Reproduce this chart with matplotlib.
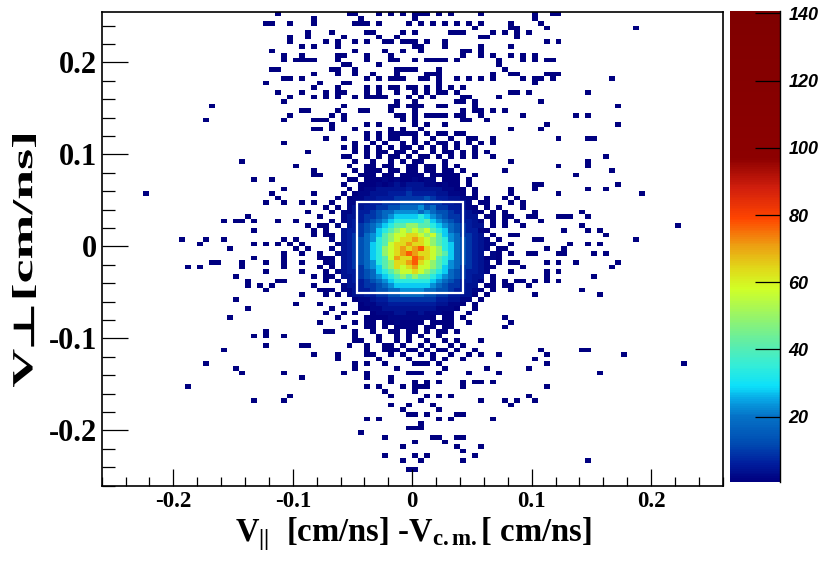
import numpy as np
import matplotlib
matplotlib.use("Agg")
import matplotlib.pyplot as plt
from matplotlib.colors import LinearSegmentedColormap, Normalize
from matplotlib.textpath import TextPath
from matplotlib.path import Path
from matplotlib.patches import PathPatch, Rectangle
from matplotlib.font_manager import FontProperties
from matplotlib.transforms import Affine2D
from matplotlib.ticker import MultipleLocator, FuncFormatter

plt.rcParams["axes.unicode_minus"] = False
plt.rcParams["mathtext.fontset"] = "custom"
plt.rcParams["mathtext.rm"] = "Liberation Serif:bold"
plt.rcParams["mathtext.bf"] = "Liberation Serif:bold"
plt.rcParams["mathtext.it"] = "Liberation Serif:bold:italic"
plt.rcParams["mathtext.fallback"] = "stix"

# binning of the 2D histogram (cm/ns), 0.005 wide bins
x_lo, x_hi, nx = -0.26, 0.26, 104
y_lo, y_hi, ny = -0.26, 0.255, 103

# colour scale range
z_min, z_max = 0.66, 140.8
z_ticks = [20, 40, 60, 80, 100, 120, 140]

# count level of each character in the dense core block
level_counts = {".": 0, "1": 1, "2": 2, "3": 4, "4": 6, "5": 9, "6": 13, "7": 18,
                "8": 23, "9": 28, "a": 34, "b": 41, "c": 49, "d": 57, "e": 64,
                "f": 71, "g": 77}

# dense core: bin rows 32..70 (counted from the top), bin columns 38..66
core_row0 = 32
core_col0 = 38
core_rows = [
    "....1.. 1..1.1. 11...1. ........",
    "...1..1 1.11..1 1.11.1. 1.......",
    "....1.1 11.11.1 1.11.11 .1......",
    "..1..11 1.11.11 11.1111 1..1....",
    "...11.1 1121211 2122.11 1.1.....",
    "..1..11 1212323 3322121 1.1.....",
    "...1.12 2333334 3333322 11.1....",
    "..1.122 3334445 4444332 21.1....",
    ".1.1223 3444555 5565443 3221.1..",
    "1..2233 4455566 6655544 332.11..",
    ".1.2334 4556677 7867554 4321.1.1",
    "1.22344 5677888 8787665 44321.1.",
    "..23345 5678999 9a98765 5433.11.",
    "1.23445 6789aaa aab9876 54432.1.",
    ".2.3456 789abbc cbba987 65433.1.",
    "..34456 79abcdc dcdba97 654421..",
    "1.34557 89bcdde edcdb98 75543.1.",
    "2.34567 8abcdee fedcba8 765432.1",
    ".234567 9abdeef eedcba9 7654322.",
    "2.34567 9acdefe fgedca9 765432.1",
    ".234567 9acdefg feedcb9 76543.21",
    "1.34567 9abdfee gfedba9 76543121",
    "2.34567 8abceef gedcba8 765432.1",
    "1.34557 89bcede fddcb98 7554321.",
    ".234456 79abcdd edcba97 654432..",
    "1.33456 789abcb cbba987 65433.1.",
    ".2.3445 6789aaa aaa9876 54432.1.",
    "..23345 5678999 9998765 5433.11.",
    "1.22344 5667788 8877665 44321.1.",
    ".1.2334 4556677 7766554 4331.1..",
    "....122 3445555 5555443 322.1...",
    "..1..12 2334444 4444332 21.1....",
    "1....11 2233333 3333222 1..1....",
    "..1.1.. 1222332 2322211 ..1.....",
    ".1....1 1112222 2221.11 .1......",
    "....1.1 1.11211 11.1111 ..1.....",
    "..1...1 1.1.111 1.11.11 ........",
    "1...1.. 1..11.1 1.1.11. 1.......",
    "....1.. .1..1.1 .1..1.. ........",
]

# single-count bins outside the core: bin row -> bin columns
sparse_hits = {
    0: [29, 41, 42, 46, 48, 50, 52, 53, 54, 56, 58, 63, 72, 75, 76],
    1: [35, 43, 52, 72],
    2: [27, 28, 31, 35, 42, 43, 44, 46, 51, 53, 55, 57, 59, 61, 63, 68, 73],
    3: [62, 68, 69, 74, 89],
    4: [34, 38, 44, 45, 50, 52, 58, 59, 60, 65, 67, 69, 71],
    5: [31, 34, 40, 46, 49, 63, 64, 69],
    6: [31, 37, 39, 42, 44, 47, 48, 50, 51, 52, 54, 57, 74, 76],
    7: [33, 35, 39, 52, 53, 57, 63, 68],
    8: [28, 42, 47, 50, 53, 60, 61, 63],
    9: [30, 33, 39, 40, 44, 48, 60, 63, 65, 68, 70, 72],
    10: [30, 32, 33, 34, 35, 39, 44, 48, 49, 52, 54, 55, 56, 57, 59, 66, 70, 72, 74, 75],
    11: [40, 41, 46, 66],
    12: [28, 29, 38, 39, 42, 49, 50, 51, 52, 56, 67],
    13: [35, 39, 42, 45, 49, 54, 55, 56, 65, 68, 69, 74, 75, 76],
    14: [30, 31, 33, 44, 46, 48, 49, 50, 53, 54, 56, 59, 61, 63, 65, 70, 72, 73, 75, 85],
    15: [27, 36, 40, 41, 56, 72],
    16: [35, 39, 44, 46, 48, 49, 51, 52, 54, 56, 58, 60],
    17: [29, 33, 37, 39, 40, 44, 46, 49, 52, 54, 56, 57, 59, 68, 69, 71, 81],
    18: [31, 35, 37, 39, 42, 44, 45, 46, 47, 51, 53, 55, 60, 61, 66],
    19: [30, 49, 52, 59, 60, 62, 73],
    20: [18, 40, 48, 49, 51, 52, 53, 56, 57, 62, 86],
    21: [33, 34, 39, 43, 44, 48, 52, 60, 62, 63, 65, 67],
    22: [31, 38, 40, 49, 50, 52, 54, 55, 56, 57, 59, 60, 63, 70, 79, 81],
    23: [17, 30, 35, 36, 37, 40, 50, 52, 60, 61, 64],
    24: [38, 44, 46, 52, 54, 57, 74, 86],
    25: [35, 36, 38, 42, 48, 50, 53, 68, 73],
    26: [44, 46, 48, 49, 50, 51, 52, 54, 56, 57, 59, 60],
    27: [37, 40, 44, 46, 48, 49, 52, 55, 58, 61, 62, 65, 76, 81, 82],
    28: [30, 42, 45, 47, 50, 52, 54, 56, 57, 59, 61, 63, 65],
    29: [40, 42, 44, 46, 48, 50, 51, 53, 55, 57, 59, 62],
    30: [34, 42, 44, 46, 47, 49, 50, 52, 55, 57, 58, 60, 62, 64],
    31: [40, 41, 44, 46, 48, 49, 51, 53, 54, 56, 58, 60, 62, 65, 84],
    32: [23, 68, 81],
    33: [32, 76, 81],
    34: [35, 67, 85],
    35: [35, 36, 79],
    36: [25, 28],
    37: [72, 73, 86],
    38: [30, 68, 72, 81, 84],
    39: [7, 28, 35, 68, 76, 90],
    40: [29, 67, 69],
    41: [27, 30, 33, 35, 68, 70],
    42: [37, 70],
    43: [34, 67, 72, 80],
    44: [24, 36, 67, 68, 71, 72, 76, 77, 78, 81],
    45: [20, 22, 23, 25, 29, 32, 67, 69, 73],
    46: [34, 36, 37, 67, 70, 80, 96],
    47: [25, 35, 37, 77, 81, 83],
    48: [35, 37, 68, 69, 84],
    49: [13, 17, 20, 30, 32, 72, 73, 89],
    50: [16, 25, 27, 29, 31, 33, 68, 78, 81, 83],
    51: [21, 32, 34, 67, 74, 77],
    52: [30, 33, 36, 68, 71, 72, 76, 77, 82, 84],
    53: [25, 30, 36, 37],
    54: [18, 19, 23, 27, 30, 33, 37, 68, 69, 74, 76, 79, 86],
    55: [14, 16, 23, 30, 36, 70, 85],
    56: [27, 33, 37, 68, 74, 76],
    57: [22, 35, 37, 74, 82],
    58: [24, 29, 30, 37, 67, 69, 70, 72, 74, 76],
    59: [24, 26, 28, 35, 67, 68, 71],
    60: [27, 36, 37, 68, 80],
    61: [33, 37, 72, 83],
    62: [22],
    63: [32, 36],
    64: [24],
    65: [37],
    66: [21, 67],
    67: [36, 68],
    68: [67],
    69: [27, 37],
    70: [25, 27, 30],
    71: [42, 43, 46, 49, 51, 54, 57, 59, 63],
    72: [27, 33, 34, 41, 44, 47, 48, 50, 53, 55, 58, 60],
    73: [20, 44, 47, 48, 49, 51, 52, 54, 56, 57, 59, 62, 73, 80, 81],
    74: [35, 39, 44, 45, 48, 50, 53, 55, 58, 61, 63, 66, 74, 87],
    75: [39, 46, 51, 55, 57, 60, 72],
    76: [17, 42, 44, 47, 52, 53, 54, 56, 74, 97],
    77: [22, 42, 49, 57, 64, 71],
    78: [23, 30, 40, 44, 51, 52, 53, 56, 61, 66, 83],
    79: [33, 44, 48],
    80: [48, 52, 54, 56, 60, 62, 63, 65],
    81: [14, 44, 46, 50, 52, 53, 54, 60, 74],
    82: [47, 52],
    83: [31, 48, 54, 56, 58, 71],
    84: [25, 30, 53, 63, 67, 69, 72],
    85: [48, 51, 55, 68],
    86: [50, 56],
    87: [51, 52, 54, 59, 60],
    88: [44, 46, 56, 58, 65],
    89: [53],
    90: [51, 52, 53],
    91: [43],
    92: [47, 55, 56, 59, 60],
    93: [52, 57],
    94: [50, 59, 63],
    95: [60],
    96: [47, 52, 54, 62],
    97: [50, 53, 60, 81],
    99: [51, 52],
}

# palette: (count, rgb)
palette = [
    (0.66, (0.00, 0.00, 0.50)),
    (6, (0.00, 0.12, 0.62)),
    (12, (0.00, 0.30, 0.70)),
    (20, (0.02, 0.45, 0.78)),
    (25, (0.03, 0.65, 0.90)),
    (29, (0.05, 0.88, 0.98)),
    (35, (0.20, 0.93, 0.85)),
    (42, (0.38, 0.93, 0.65)),
    (50, (0.60, 0.96, 0.40)),
    (58, (0.82, 1.00, 0.15)),
    (64, (0.88, 0.85, 0.10)),
    (71, (0.93, 0.62, 0.07)),
    (79, (1.00, 0.27, 0.00)),
    (88, (0.82, 0.12, 0.05)),
    (97, (0.55, 0.00, 0.00)),
    (140.8, (0.50, 0.00, 0.00)),
]

# box drawn around the selected region (cm/ns)
box_x = (-0.0465, 0.0425)
box_y = (-0.0505, 0.0485)


def build_counts():
    grid = np.zeros((ny, nx))
    for row, cols in sparse_hits.items():
        for c in cols:
            grid[row, c] = max(grid[row, c], 1)
    for i, line in enumerate(core_rows):
        cells = line.replace(" ", "")
        for k, ch in enumerate(cells):
            grid[core_row0 + i, core_col0 + k] = level_counts[ch]
    # rows were listed from the top, flip to bottom-up
    return grid[::-1]


def stretched_label(pieces, size, length, cx, cy):
    """Glue text pieces into one path, stretch it to `length` px and stand it upright."""
    paths, x = [], 0.0
    for text, prop, dy, gap in pieces:
        tp = TextPath((0, 0), text, size=size, prop=prop)
        e = tp.get_extents()
        paths.append(tp.transformed(Affine2D().translate(x - e.x0, dy)))
        x += e.width + gap
    path = Path.make_compound_path(*paths)
    e = path.get_extents()
    tr = (Affine2D()
          .translate(-(e.x0 + e.width / 2), -(e.y0 + e.height / 2))
          .scale(length / e.width, 1.0)
          .rotate_deg(90)
          .translate(cx, cy))
    return PathPatch(path, transform=tr, facecolor="black", edgecolor="none")


counts = build_counts()
x_edges = np.linspace(x_lo, x_hi, nx + 1)
y_edges = np.linspace(y_lo, y_hi, ny + 1)

stops = [((v - z_min) / (z_max - z_min), c) for v, c in palette]
cmap = LinearSegmentedColormap.from_list("root_rainbow", stops)
norm = Normalize(vmin=z_min, vmax=z_max)

W, H = 830, 573
fig = plt.figure(figsize=(W / 100, H / 100), dpi=100)
fig.patch.set_facecolor("white")
ax = fig.add_axes([101.7 / W, 87.3 / H, 621 / W, 474 / H])

mesh = ax.pcolormesh(x_edges, y_edges, np.ma.masked_equal(counts, 0),
                     cmap=cmap, norm=norm, shading="flat",
                     edgecolors="none", antialiased=False)

ax.add_patch(Rectangle((box_x[0], box_y[0]), box_x[1] - box_x[0], box_y[1] - box_y[0],
                       fill=False, edgecolor="white", linewidth=1.6))

ax.set_xlim(x_lo, x_hi)
ax.set_ylim(y_lo, y_hi)
for sp in ax.spines.values():
    sp.set_linewidth(1.2)

fmt = FuncFormatter(lambda v, p: "%g" % (round(v, 3) + 0.0))
ax.xaxis.set_major_locator(MultipleLocator(0.1))
ax.xaxis.set_minor_locator(MultipleLocator(0.02))
ax.yaxis.set_major_locator(MultipleLocator(0.1))
ax.yaxis.set_minor_locator(MultipleLocator(0.02))
ax.xaxis.set_major_formatter(fmt)
ax.yaxis.set_major_formatter(fmt)
ax.tick_params(axis="x", which="major", direction="in", length=12.5, width=0.9,
               top=False, pad=4, labelsize=16.5)
ax.tick_params(axis="x", which="minor", direction="in", length=6.5, width=0.9, top=False)
ax.tick_params(axis="y", which="major", direction="in", length=19, width=0.9,
               right=False, pad=3.4, labelsize=22)
ax.tick_params(axis="y", which="minor", direction="in", length=9.5, width=0.9, right=False)
for lab in ax.get_xticklabels() + ax.get_yticklabels():
    lab.set_fontfamily("Liberation Serif")
    lab.set_fontweight("bold")

# colour bar
cax = fig.add_axes([730 / W, 91.3 / H, 50 / W, 471 / H])
cb = fig.colorbar(mesh, cax=cax)
cb.outline.set_visible(False)
cb.set_ticks(z_ticks)
cb.ax.minorticks_off()
cax.tick_params(axis="y", direction="in", length=18, width=0.9, right=True,
                left=False, pad=6, labelsize=13)
for lab in cax.get_yticklabels():
    lab.set_fontfamily("Liberation Sans")
    lab.set_fontweight("bold")
    lab.set_fontstyle("italic")
cax.plot([1, 1], [0, 1], transform=cax.transAxes, color="black", lw=1.0, clip_on=False)

# x title
fig.text(413 / W, (H - 541) / H, r"V$_{\mathbf{||}}$  [cm/ns] -V$_{\mathbf{c.m.}}$[ cm/ns]",
         ha="center", va="baseline", fontsize=23.5, fontfamily="Liberation Serif",
         fontweight="bold")

# y title: V, the perpendicular sign and the unit glued into one stretched path
serif_b = FontProperties(family="Liberation Serif", weight="bold")
sans_b = FontProperties(family="DejaVu Sans", weight="bold")
fig.add_artist(stretched_label(
    [("V", serif_b, 0.0, 1.5), ("\u22a5", sans_b, -2.0, 5.0), ("[cm/ns]", serif_b, 0.0, 0.0)],
    size=29, length=252.0, cx=24, cy=H - 261))

fig.savefig("out.png", dpi=100)
